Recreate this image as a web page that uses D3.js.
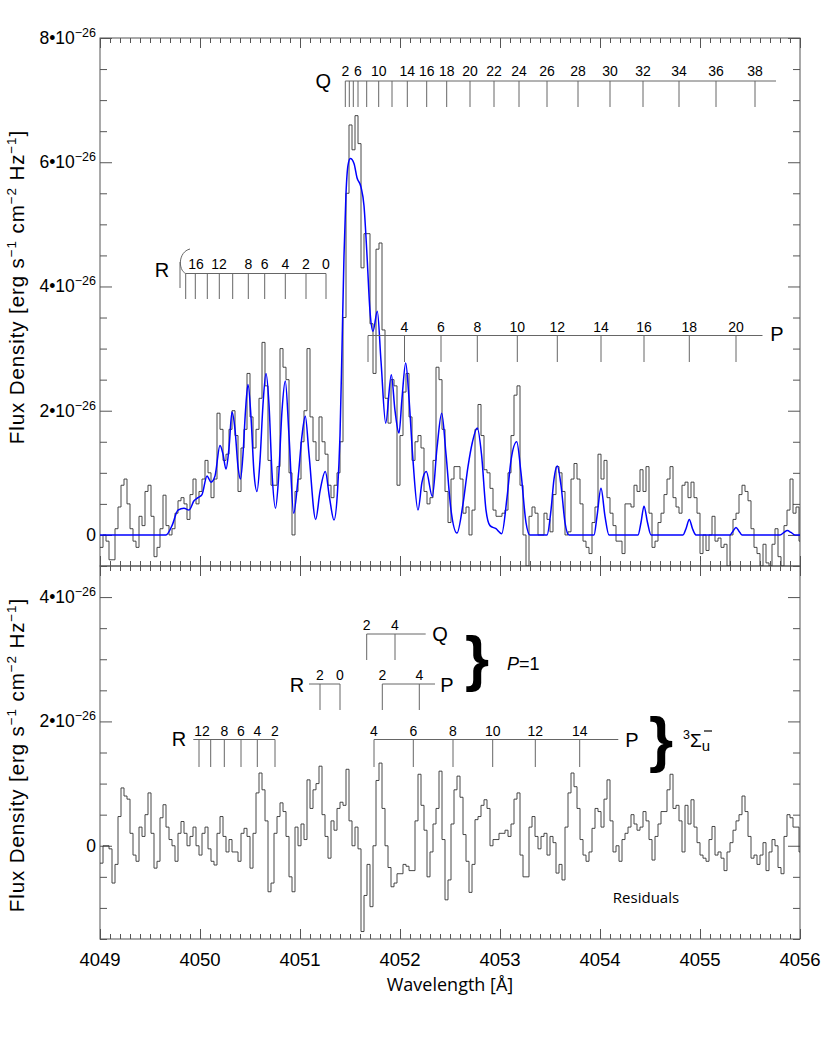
<!DOCTYPE html>
<html><head><meta charset="utf-8">
<script src="https://cdn.jsdelivr.net/npm/d3@7"></script>
<style>body{margin:0;background:#fff}svg{display:block}</style>
</head><body>
<svg id="c" width="830" height="1038"></svg>
<script>
// ---------------- DATA ----------------
const binStart = 4049, binWidth = 0.03;   // Å
// observed flux, units of 1e-26 erg s^-1 cm^-2 Hz^-1
const observed = [
-0.2,0.0,-0.1,-0.4,-0.4,0.1,0.45,0.8,0.9,0.5,
0.1,-0.1,-0.2,0.3,0.15,0.7,0.8,0.3,-0.35,-0.2,
0.1,0.64,0.15,0.0,0.1,0.35,0.55,0.6,0.5,0.25,
0.65,0.9,0.5,0.7,0.9,1.2,1.0,0.6,0.9,1.96,
1.7,1.2,1.3,1.7,2.0,1.6,0.7,1.4,1.7,2.6,
1.9,1.4,1.7,2.2,3.1,2.4,1.2,0.8,0.8,1.1,
3.0,2.7,2.5,1.0,0.0,0.7,0.9,1.5,2.0,3.0,
1.9,1.5,1.2,1.9,1.5,1.3,0.8,0.6,0.8,1.0,
1.5,3.5,5.5,6.6,6.2,6.75,6.3,4.3,4.85,4.85,
3.4,2.6,4.6,4.7,3.3,2.2,1.8,2.5,2.4,0.8,
1.6,2.3,2.6,1.9,1.2,1.5,1.6,1.4,0.7,0.5,
0.6,1.2,2.7,2.5,1.7,0.7,0.2,0.9,1.1,1.1,
0.9,0.35,0.45,0.0,0.4,1.7,2.1,1.6,1.05,1.0,
0.75,0.4,0.3,0.3,0.35,0.4,1.0,1.6,2.25,2.4,
0.8,0.0,-0.5,0.3,0.45,0.35,0.0,0.0,0.35,0.25,
0.05,0.65,1.1,1.0,0.7,0.0,0.05,0.9,1.15,0.9,
0.5,-0.1,-0.2,-0.3,0.2,0.45,1.3,0.9,1.2,0.6,
0.35,0.15,-0.1,-0.1,-0.3,0.5,0.5,0.45,0.8,0.7,
1.05,0.7,1.1,0.35,-0.2,-0.1,0.2,0.35,0.65,0.9,
1.1,0.6,0.45,0.35,0.8,0.85,0.6,0.85,0.6,0.35,
-0.3,0.0,-0.25,0.0,0.3,-0.1,-0.05,-0.2,-0.15,-0.5,
0.0,0.25,0.35,0.65,0.8,0.7,0.55,0.1,-0.2,-0.3,
-0.5,-0.15,-0.45,-0.5,-0.15,0.1,-0.35,-0.5,0.15,0.4,
0.9,0.35,0.45,-0.1];
const residuals = [
-0.28,0.0,0.0,-0.05,-0.6,-0.3,0.47,0.93,0.8,0.75,
0.2,-0.15,-0.25,0.3,0.15,0.5,0.85,0.2,-0.36,-0.25,
0.45,0.66,0.3,0.1,0.0,-0.25,0.2,0.39,0.2,0.0,
0.15,0.3,0.0,-0.15,0.2,0.3,-0.05,-0.25,-0.31,0.2,
0.47,0.15,-0.1,0.1,-0.1,-0.1,-0.25,0.2,0.28,0.15,
-0.36,0.2,0.85,1.17,0.9,0.4,-0.74,-0.6,0.2,0.47,
0.69,0.55,0.15,-0.5,-0.74,0.3,0.0,0.35,0.1,1.06,
0.6,0.9,1.0,1.28,0.5,0.15,-0.2,0.4,0.25,0.6,
0.7,0.65,1.23,0.4,0.0,0.3,-0.05,-1.38,-0.8,-0.3,
-0.98,0.0,1.05,1.33,0.6,0.0,-0.35,-0.66,-0.6,-0.45,
-0.45,-0.3,-0.33,-0.4,-0.4,0.4,1.15,0.65,0.25,-0.5,
-0.1,0.35,0.6,1.2,0.1,-0.87,-0.55,0.35,0.9,1.12,
0.78,0.18,-0.25,-0.75,-0.3,0.42,0.47,0.65,0.74,0.6,
0.0,0.1,0.1,0.2,0.2,0.25,0.15,0.35,0.75,0.85,
-0.15,-0.5,-0.5,0.3,0.47,0.15,-0.05,0.15,0.2,-0.15,
0.15,0.05,-0.44,-0.3,-0.55,0.3,0.85,1.17,0.95,0.6,
0.1,-0.15,-0.25,-0.1,0.28,0.6,0.55,0.3,0.75,1.06,
0.4,-0.1,0.0,-0.25,0.1,0.2,0.3,0.5,0.35,0.25,
0.3,0.55,0.4,0.1,-0.23,0.15,0.35,0.55,0.55,0.9,
1.15,0.6,0.65,0.4,-0.1,0.65,0.35,0.74,0.3,0.05,
-0.15,-0.2,-0.25,0.1,0.31,-0.15,-0.1,-0.2,-0.4,-0.1,
0.05,0.25,0.4,0.5,0.8,0.55,0.15,-0.2,-0.15,-0.3,
-0.15,0.05,-0.4,-0.1,0.1,0.0,-0.35,-0.45,0.15,0.5,
0.45,0.3,0.3,-0.1];
// model (blue), sampled read-off points
const modelWave = [4049.00,4049.66,4049.72,4049.78,4049.84,4049.89,4049.94,4049.98,4050.02,4050.07,
4050.11,4050.15,4050.20,4050.23,4050.26,4050.29,4050.32,4050.35,4050.38,4050.405,
4050.43,4050.455,4050.48,4050.51,4050.54,4050.57,4050.60,4050.63,4050.66,4050.69,
4050.72,4050.755,4050.785,4050.82,4050.853,4050.89,4050.937,4050.98,4051.02,4051.053,
4051.09,4051.157,4051.20,4051.253,4051.295,4051.34,4051.375,4051.40,4051.42,4051.44,
4051.46,4051.48,4051.503,4051.54,4051.57,4051.61,4051.64,4051.67,4051.70,4051.73,
4051.773,4051.81,4051.857,4051.913,4051.95,4051.99,4052.02,4052.057,4052.09,4052.13,
4052.18,4052.22,4052.263,4052.323,4052.37,4052.417,4052.46,4052.51,4052.57,4052.63,
4052.68,4052.725,4052.773,4052.815,4052.86,4052.90,4052.96,4053.017,4053.07,4053.11,
4053.167,4053.21,4053.26,4053.30,4053.47,4053.51,4053.54,4053.573,4053.61,4053.65,
4053.69,4053.94,4053.97,4054.01,4054.05,4054.09,4054.38,4054.41,4054.44,4054.475,
4054.51,4054.83,4054.86,4054.893,4054.925,4054.96,4055.30,4055.33,4055.36,4055.39,
4055.42,4055.80,4055.84,4055.873,4055.91,4055.95,4056.00];
const modelFlux = [0,0,0.15,0.4,0.43,0.4,0.55,0.6,0.65,0.95,
0.85,0.95,1.44,1.3,1.06,1.4,1.98,1.7,1.1,0.9,
1.3,2.0,2.42,1.9,1.0,0.7,1.2,2.1,2.6,2.1,
1.0,0.43,0.9,2.0,2.48,1.6,0.35,0.9,1.6,1.91,
1.3,0.25,0.7,1.02,0.6,0.24,0.7,1.6,3.0,4.5,
5.5,5.95,6.06,5.98,5.75,5.6,5.3,4.5,3.6,3.28,
3.6,2.8,1.8,2.58,2.0,1.64,2.2,2.77,2.2,1.2,
0.4,0.85,1.02,0.62,1.4,1.96,1.3,0.4,0.03,0.5,
1.1,1.5,1.72,1.3,0.4,0.15,0.1,0.02,0.6,1.2,
1.5,1.0,0.2,0,0,0.4,0.9,1.11,0.8,0.2,
0,0,0.3,0.75,0.3,0,0,0.2,0.46,0.2,
0,0,0.1,0.25,0.1,0,0,0.06,0.12,0.06,
0,0,0.04,0.07,0.04,0,0];

// axes
const xMajor = [4049,4050,4051,4052,4053,4054,4055,4056];
const topYLabels = [0,2,4,6,8];
const botYLabels = [0,2,4];
const tickExponent = "\u221226";

// line identifications (wavelengths, Å)
const topQLines = [4051.453,4051.493,4051.533,4051.58,4051.667,4051.787,4051.92,4052.073,4052.267,4052.467,4052.70,4052.94,4053.19,4053.47,4053.78,4054.10,4054.43,4054.79,4055.16,4055.55];
const topQLabelJ = [2,6,10,14,16,18,20,22,24,26,28,30,32,34,36,38];
const topQLabelWave = [4051.455,4051.58,4051.787,4052.073,4052.267,4052.467,4052.70,4052.94,4053.19,4053.47,4053.78,4054.10,4054.43,4054.79,4055.16,4055.55];
const topQEnd = 4055.76;
const topRLines = [4049.857,4049.953,4050.073,4050.193,4050.327,4050.483,4050.647,4050.853,4051.06,4051.26];
const topRLabelJ = [16,12,8,6,4,2,0];
const topRLabelWave = [4049.96,4050.19,4050.483,4050.647,4050.853,4051.06,4051.26];
const topRHead = 4049.80;
const topPLines = [4051.68,4052.045,4052.41,4052.773,4053.173,4053.573,4054.01,4054.44,4054.893,4055.36];
const topPLabelJ = [4,6,8,10,12,14,16,18,20];
const topPLabelWave = [4052.045,4052.41,4052.773,4053.173,4053.573,4054.01,4054.44,4054.893,4055.36];
const topPEnd = 4055.625;

const p1QLines = [4051.667,4051.95], p1QLabelJ=[2,4], p1QEnd = 4052.257;
const p1RLines = [4051.20,4051.40], p1RLabelJ=[2,0], p1RStart = 4051.09;
const p1PLines = [4051.823,4052.193], p1PLabelJ=[2,4], p1PEnd = 4052.35;
const sRLines = [4049.99,4050.107,4050.243,4050.41,4050.573,4050.75];
const sRLabelJ = [12,8,6,4,2], sRLabelWave=[4050.02,4050.243,4050.41,4050.573,4050.75], sRStart = 4049.933;
const sPLines = [4051.74,4052.133,4052.53,4052.927,4053.353,4053.797];
const sPLabelJ = [4,6,8,10,12,14], sPEnd = 4054.183;

// ---------------- DRAW ----------------
const svg = d3.select("#c");
const L=100, R=800, T1=38, B1=566, T2=566, B2=939;
const x = d3.scaleLinear().domain([4049,4056]).range([L,R]);
const yT = d3.scaleLinear().domain([-0.5,8]).range([B1,T1]);
const yB = d3.scaleLinear().domain([-1.5,4.5]).range([B2,T2]);
const FONT = "'Liberation Sans', Arial, Helvetica, sans-serif";
const AX = "#555";

const xMinor = d3.range(4049,4056.001,0.1).map(v=>+v.toFixed(1)).filter(v=>!xMajor.includes(v));

function panel(y, top, bottom, yMajorVals, yMinorVals, id){
  const g = svg.append("g");
  const mk = (axis, tr) => { const a = g.append("g").attr("transform",tr).call(axis);
    a.select(".domain").remove(); a.selectAll("text").remove();
    a.selectAll("line").attr("stroke",AX).attr("stroke-width",1); };
  mk(d3.axisTop(x).tickValues(xMajor).tickSize(10).tickFormat(""), `translate(0,${bottom})`);
  mk(d3.axisTop(x).tickValues(xMinor).tickSize(5).tickFormat(""), `translate(0,${bottom})`);
  mk(d3.axisBottom(x).tickValues(xMajor).tickSize(10).tickFormat(""), `translate(0,${top})`);
  mk(d3.axisBottom(x).tickValues(xMinor).tickSize(5).tickFormat(""), `translate(0,${top})`);
  mk(d3.axisRight(y).tickValues(yMajorVals).tickSize(12).tickFormat(""), `translate(${L},0)`);
  mk(d3.axisRight(y).tickValues(yMinorVals).tickSize(7).tickFormat(""), `translate(${L},0)`);
  mk(d3.axisLeft(y).tickValues(yMajorVals).tickSize(12).tickFormat(""), `translate(${R},0)`);
  mk(d3.axisLeft(y).tickValues(yMinorVals).tickSize(7).tickFormat(""), `translate(${R},0)`);
  g.append("rect").attr("x",L).attr("y",top).attr("width",R-L).attr("height",bottom-top)
    .attr("fill","none").attr("stroke",AX).attr("stroke-width",1);
  svg.append("clipPath").attr("id",id).append("rect").attr("x",L).attr("y",top).attr("width",R-L).attr("height",bottom-top);
  yMajorVals.forEach(v=>{
    const t = svg.append("text").attr("x",96).attr("y",y(v)+6).attr("text-anchor","end")
      .attr("font-family",FONT).attr("font-size",17.5).attr("fill","#000");
    if(v===0){ t.text("0"); }
    else { t.append("tspan").text(v+"\u202210");
           t.append("tspan").attr("font-size",12.5).attr("dy",-7).text(tickExponent); }
  });
}
const minorT = d3.range(-0.5,8.001,0.5).filter(v=>v%2!==0);
const minorB = d3.range(-1.5,4.501,0.5).filter(v=>v%2!==0);
panel(yT, T1, B1, topYLabels, minorT, "clipT");
panel(yB, T2, B2, botYLabels, minorB, "clipB");

// histograms + model
function stepPts(arr){ const p = arr.map((v,i)=>[binStart+i*binWidth, v]); p.push([binStart+arr.length*binWidth, arr[arr.length-1]]); return p; }
svg.append("path").attr("clip-path","url(#clipT)")
  .attr("d", d3.line().x(d=>x(d[0])).y(d=>yT(d[1])).curve(d3.curveStepAfter)(stepPts(observed)))
  .attr("fill","none").attr("stroke","#333").attr("stroke-width",0.9);
svg.append("path").attr("clip-path","url(#clipT)")
  .attr("d", d3.line().x((d,i)=>x(modelWave[i])).y(d=>yT(d)).curve(d3.curveMonotoneX)(modelFlux))
  .attr("fill","none").attr("stroke","#0000ff").attr("stroke-width",1.5);
svg.append("path").attr("clip-path","url(#clipB)")
  .attr("d", d3.line().x(d=>x(d[0])).y(d=>yB(d[1])).curve(d3.curveStepAfter)(stepPts(residuals)))
  .attr("fill","none").attr("stroke","#333").attr("stroke-width",0.9);

// x tick labels
xMajor.forEach(v=> svg.append("text").attr("x",x(v)).attr("y",966).attr("text-anchor","middle")
  .attr("font-family",FONT).attr("font-size",18.5).text(v));

// axis titles
function yTitle(cy){
  const t = svg.append("text").attr("transform",`translate(24,${cy}) rotate(-90)`).attr("text-anchor","middle")
    .attr("font-family",FONT).attr("font-size",20.5).attr("letter-spacing",0.9);
  const parts = [["Flux Density [erg s",0],["\u22121",1],[" cm",0],["\u22122",1],[" Hz",0],["\u22121",1],["]",0]];
  let up=false;
  parts.forEach(([s,sup])=>{
    const ts = t.append("tspan").text(s);
    if(sup){ ts.attr("font-size",13.5).attr("dy",-8); up=true; }
    else if(up){ ts.attr("dy",8); up=false; }
  });
}
yTitle(287); yTitle(755);
svg.append("text").attr("x",450).attr("y",991).attr("text-anchor","middle")
  .attr("font-family","'Open Sans', sans-serif").attr("font-size",18).text("Wavelength [\u00c5]");

// line identification markers
const LC = "#666";
function hline(x1,x2,yy){ svg.append("line").attr("x1",x(x1)).attr("x2",x(x2)).attr("y1",yy).attr("y2",yy).attr("stroke",LC).attr("stroke-width",1); }
function vticks(ws,y1,y2){ svg.selectAll(null).data(ws).enter().append("line")
  .attr("x1",d=>x(d)).attr("x2",d=>x(d)).attr("y1",y1).attr("y2",y2).attr("stroke",LC).attr("stroke-width",1); }
function nums(js,ws,yy,fs){ js.forEach((j,i)=> svg.append("text").attr("x",x(ws[i])).attr("y",yy).attr("text-anchor","middle")
  .attr("font-family",FONT).attr("font-size",fs||14).text(j)); }
function big(s,xx,yy){ svg.append("text").attr("x",xx).attr("y",yy).attr("text-anchor","middle")
  .attr("font-family",FONT).attr("font-size",20).text(s); }

// top Q
hline(topQLines[0], topQEnd, 81); vticks(topQLines, 81, 107); nums(topQLabelJ, topQLabelWave, 76);
big("Q", x(topQLines[0])-22, 88);
// top R
hline(topRLines[0], topRLines[topRLines.length-1], 273.5); vticks(topRLines, 273.5, 299); nums(topRLabelJ, topRLabelWave, 269);
svg.append("line").attr("x1",x(topRHead)).attr("x2",x(topRHead)).attr("y1",262).attr("y2",288).attr("stroke",LC);
svg.append("path").attr("d",`M${x(topRLines[0])},273.5 C${x(topRHead)-2},270 ${x(topRHead)-2},252 ${x(topRHead)+10},249`)
  .attr("fill","none").attr("stroke",LC);
big("R", 162, 277);
// top P
hline(topPLines[0], topPEnd, 335.5); vticks(topPLines, 335.5, 362); nums(topPLabelJ, topPLabelWave, 332);
big("P", 777, 341);

// bottom: P=1 lines
hline(p1QLines[0], p1QEnd, 634); vticks(p1QLines, 634, 660); nums(p1QLabelJ, p1QLines, 630); big("Q", 440, 641);
hline(p1RStart, p1RLines[1], 684); vticks(p1RLines, 684, 710); nums(p1RLabelJ, p1RLines, 680); big("R", 297, 692);
hline(p1PLines[0], p1PEnd, 684); vticks(p1PLines, 684, 710); nums(p1PLabelJ, p1PLines, 680); big("P", 447, 692);
// 3Sigma lines
hline(sRStart, sRLines[sRLines.length-1], 739.5); vticks(sRLines, 739.5, 767); nums(sRLabelJ, sRLabelWave, 736); big("R", 179, 746);
hline(sPLines[0], sPEnd, 739.5); vticks(sPLines, 739.5, 767); nums(sPLabelJ, sPLines, 736); big("P", 632, 747);

// braces and state labels
function brace(cx,cy){ svg.append("text").attr("x",cx).attr("y",cy).attr("text-anchor","middle")
  .attr("font-family",FONT).attr("font-weight","bold").attr("font-size",62).attr("dominant-baseline","central").text("}"); }
brace(477,657); brace(661,738);
const p1 = svg.append("text").attr("x",507).attr("y",670).attr("font-family",FONT).attr("font-size",18);
p1.append("tspan").attr("font-style","italic").text("P"); p1.append("tspan").text("=1");
const sg = svg.append("text").attr("x",683).attr("y",747).attr("font-family",FONT).attr("font-size",19);
sg.append("tspan").attr("font-size",12.5).attr("dy",-8).text("3");
sg.append("tspan").attr("dy",8).text("\u03a3");
sg.append("tspan").attr("font-size",15).attr("dy",4).text("u");
svg.append("line").attr("x1",704).attr("x2",712).attr("y1",731).attr("y2",731).attr("stroke","#000").attr("stroke-width",1.2);
svg.append("text").attr("x",646).attr("y",903).attr("text-anchor","middle")
  .attr("font-family","'Open Sans', sans-serif").attr("font-size",15).text("Residuals");
</script>
</body></html>
